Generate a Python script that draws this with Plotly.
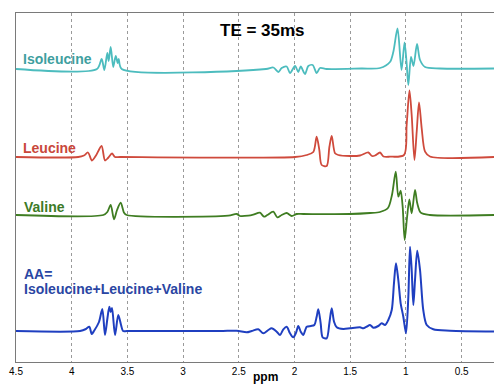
import plotly.graph_objects as go

# ---- data (chemical shift in ppm, intensity in arbitrary units) ----
ile_ppm = [4.5, 3.773, 3.731, 3.707, 3.680, 3.668, 3.650, 3.627, 3.605, 3.587, 3.578, 3.551,
           2.256, 2.190, 2.145, 2.115, 2.070, 2.040, 1.995, 1.966, 1.944, 1.906, 1.876, 1.837,
           1.801, 1.771, 1.711, 1.40, 1.232, 1.143, 1.113, 1.075, 1.039, 1.012, 0.994, 0.978,
           0.954, 0.932, 0.900, 0.873, 0.828, 0.694, 0.209]
ile_int = [0, 0, 10, -1, 16, 8, 22, 2, 13, 6, 10, 0,
           0, 1.5, -3, 1, 2.5, -4, 3, -3, 2.5, -5, 3, 4,
           -4, 1, 0, 0.5, 1, 7, 17, 40.5, -1, 26.5, 7, -16,
           12, 3, 25, 9, 2, 0.5, 0.5]

leu_ppm = [4.5, 3.941, 3.890, 3.854, 3.818, 3.782, 3.732, 3.701, 3.674, 3.638, 3.611, 3.566,
           1.995, 1.890, 1.831, 1.801, 1.777, 1.756, 1.711, 1.687, 1.666, 1.636, 1.607,
           1.502, 1.412, 1.337, 1.304, 1.277, 1.232, 1.201, 1.143, 1.017, 0.993, 0.968,
           0.948, 0.923, 0.903, 0.882, 0.858, 0.828, 0.784, 0.209]
leu_int = [0, 0, 1.5, 4.5, -3.5, 1.5, 11, -3.5, -1, 3.5, 0, 0,
           0, 2, 5, 20.3, 7, -8, -9, 10, 21, 3.7, 2,
           1, 1.5, 4.5, 1, 1.5, 4.5, 0.5, 0.3, 2, 32, 66.5,
           42, -3, 25.3, 54.5, 28.7, 5.3, 0.5, 0]

val_ppm = [4.5, 3.716, 3.680, 3.650, 3.620, 3.593, 3.560, 3.530, 3.506,
           2.594, 2.519, 2.489, 2.415, 2.370, 2.310, 2.274, 2.244, 2.190, 2.154, 2.115,
           2.070, 2.025, 1.980, 1.921, 1.502, 1.322, 1.232, 1.161, 1.125, 1.091, 1.068,
           1.047, 1.029, 1.011, 0.990, 0.969, 0.948, 0.918, 0.898, 0.867, 0.784, 0.209]
val_int = [0, 0, 3, 10, -4.3, 5, 12.3, 2.3, 0,
           -0.7, 1, -1, -0.7, 0.3, 2.3, -1.7, 0, 3.3, -2.3, 0,
           2, -1, 1, 1, 1, 2, 3, 7, 20, 43.3, 18.3,
           24.3, 8.3, -25, -3, 15.7, 1.7, 25, 11.7, 2.3, 0, 0]

aa_ppm = [4.5, 3.925, 3.872, 3.842, 3.820, 3.800, 3.755, 3.725, 3.701, 3.679, 3.662, 3.650,
          3.638, 3.611, 3.582, 3.557, 3.539, 3.504, 2.669, 2.519, 2.429, 2.384, 2.325, 2.280,
          2.235, 2.205, 2.160, 2.130, 2.100, 2.070, 2.040, 2.011, 1.986, 1.966, 1.944, 1.921,
          1.890, 1.852, 1.822, 1.801, 1.786, 1.765, 1.747, 1.711, 1.687, 1.666, 1.645, 1.621,
          1.562, 1.502, 1.412, 1.382, 1.352, 1.322, 1.292, 1.248, 1.217, 1.187, 1.158, 1.127,
          1.107, 1.089, 1.068, 1.047, 1.023, 0.999, 0.978, 0.963, 0.948, 0.933, 0.918, 0.898,
          0.873, 0.844, 0.813, 0.754, 0.604, 0.209]
aa_int = [0, 0, 2, 4.3, -3, 0, 9, 22, -4, 13, 24.3, 19,
          23, -4, 16, 6, 0, 0, 0, 0.3, -1.3, 0, 1.7, -2.3,
          1, 2.7, -0.7, -4, 1.7, 4.3, -2.3, -6.3, -1.7, 5, -0.7, -4,
          4.3, 5, 6, 14.3, 21.7, 7.7, -6.3, -7.3, 7.7, 22.7, 9.3, 3.7,
          2, 2.7, 3.7, 2.7, 4.3, 6, 3.3, 5, 7.7, 6, 11, 21,
          47.7, 67.7, 51, 27.7, 14.3, -2.3, 34.3, 84.3, 61, 26, 51, 80.3,
          61, 21, 6, 1.7, 0.3, -0.5]

tick_vals = [4.5, 4, 3.5, 3, 2.5, 2, 1.5, 1, 0.5]
tick_text = ["4.5", "4", "3.5", "3", "2.5", "2", "1.5", "1", "0.5"]

# vertical stacking offsets (display layout)
series = [
    ("Isoleucine", ile_ppm, ile_int, 293, "#4cbcbe", 1.8),
    ("Leucine", leu_ppm, leu_int, 205, "#cf4a3c", 1.8),
    ("Valine", val_ppm, val_int, 147, "#3f7d22", 1.8),
    ("AA", aa_ppm, aa_int, 31, "#1f3fc0", 2.0),
]

fig = go.Figure()
for name, xs, ys, off, col, w in series:
    n = min(len(xs), len(ys))
    fig.add_trace(go.Scatter(
        x=xs[:n], y=[v + off for v in ys[:n]], mode="lines", name=name,
        line=dict(color=col, width=w, shape="spline", smoothing=0.8),
        hoverinfo="skip", showlegend=False))

W, H = 494, 384
X0, X1, Y0, Y1 = 16, 494, 13, 362          # plot area in page pixels
pw, ph = X1 - X0, Y1 - Y0


def px(xp):
    return (xp - X0) / pw


def py(yp):
    return (Y1 - yp) / ph


font_family = "Liberation Sans, Arial, sans-serif"
ann = [
    dict(text="<b>TE = 35ms</b>", x=px(262), y=py(30), xanchor="center", yanchor="middle",
         font=dict(size=17, color="#000000")),
    dict(text="<b>Isoleucine</b>", x=px(21), y=py(59), xanchor="left", yanchor="middle",
         font=dict(size=14, color="#3f9fa0")),
    dict(text="<b>Leucine</b>", x=px(21), y=py(148), xanchor="left", yanchor="middle",
         font=dict(size=14, color="#c9473b")),
    dict(text="<b>Valine</b>", x=px(22), y=py(206.5), xanchor="left", yanchor="middle",
         font=dict(size=14, color="#3c7a27")),
    dict(text="<b>AA=</b>", x=px(22), y=py(273.5), xanchor="left", yanchor="middle",
         font=dict(size=14, color="#2a46a3")),
    dict(text="<b>Isoleucine+Leucine+Valine</b>", x=px(22), y=py(288.5), xanchor="left",
         yanchor="middle", font=dict(size=14, color="#2a46a3")),
    dict(text="<b>ppm</b>", x=px(265), y=py(376.5), xanchor="center", yanchor="middle",
         font=dict(size=12, color="#000000")),
]
for a in ann:
    a.update(xref="paper", yref="paper", showarrow=False)
    a["font"]["family"] = font_family

fig.update_layout(
    width=W, height=H,
    margin=dict(l=X0, r=W - X1, t=Y0, b=H - Y1, pad=0),
    paper_bgcolor="white", plot_bgcolor="white",
    annotations=ann,
    font=dict(family=font_family),
    hovermode=False,
    xaxis=dict(range=[4.5, 0.209], tickvals=tick_vals, ticktext=tick_text,
               showgrid=True, gridcolor="#9a9a9a", griddash="dot", gridwidth=1,
               showline=True, linecolor="#7a7a7a", linewidth=1, mirror=True,
               ticks="", zeroline=False,
               tickfont=dict(size=10, color="#000000", family=font_family),
               ticklabelstandoff=0),
    yaxis=dict(range=[0, 349], showgrid=False, showticklabels=False, ticks="",
               showline=True, linecolor="#7a7a7a", linewidth=1, zeroline=False),
)
fig.update_xaxes(tickprefix="<b>", ticksuffix="</b>")

fig.write_html(
    "out.html",
    config={"displayModeBar": False, "staticPlot": True},
    post_script="document.body.style.margin='0';document.body.style.overflow='hidden';"
                "document.documentElement.style.overflow='hidden';",
)
